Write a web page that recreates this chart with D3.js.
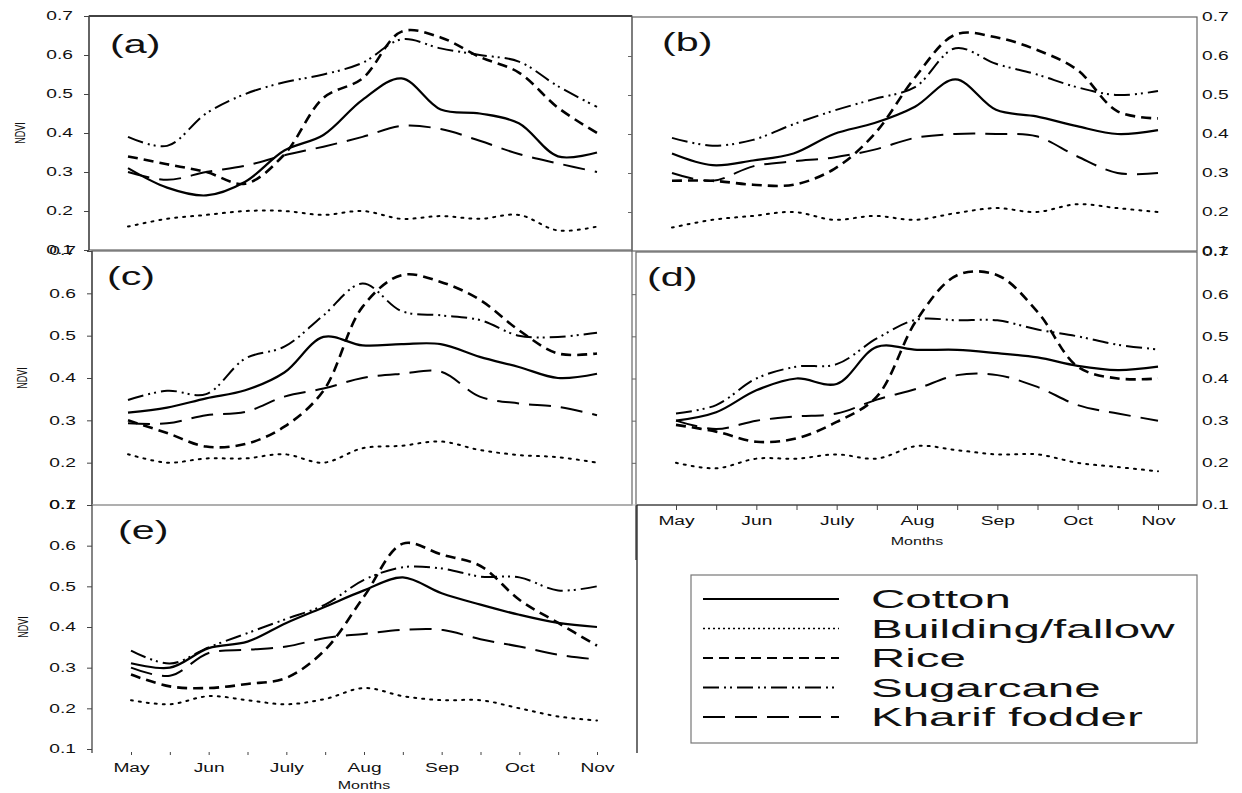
<!DOCTYPE html>
<html><head><meta charset="utf-8">
<script src="https://cdn.jsdelivr.net/npm/d3@7"></script>
<style>body{margin:0;background:#fff}svg{display:block}text{font-family:"Liberation Sans",Arial,sans-serif;fill:#111}</style>
</head><body><svg id="c" width="1242" height="793"></svg>
<script>
// ---------- data ----------
const months = ["May","Jun","July","Aug","Sep","Oct","Nov"];
const halfSteps = d3.range(13);              // half-month positions May..Nov
const yTicks = [0.1,0.2,0.3,0.4,0.5,0.6,0.7];
const panelNames = ["(a)","(b)","(c)","(d)","(e)"];
const seriesNames = ["Cotton","Building/fallow","Rice","Sugarcane","Kharif fodder"];

const cotton = [
 [0.31,0.26,0.24,0.275,0.355,0.395,0.485,0.54,0.46,0.45,0.425,0.34,0.35],
 [0.35,0.32,0.332,0.35,0.40,0.428,0.47,0.54,0.462,0.445,0.42,0.40,0.41],
 [0.318,0.33,0.352,0.371,0.413,0.497,0.477,0.48,0.48,0.45,0.426,0.40,0.41],
 [0.30,0.32,0.372,0.40,0.387,0.475,0.468,0.468,0.46,0.45,0.43,0.42,0.428],
 [0.311,0.30,0.348,0.364,0.41,0.45,0.49,0.522,0.483,0.455,0.43,0.41,0.40]
];
const fallow = [
 [0.16,0.18,0.19,0.20,0.20,0.19,0.20,0.18,0.187,0.18,0.19,0.15,0.16],
 [0.16,0.18,0.19,0.20,0.18,0.19,0.18,0.197,0.21,0.20,0.22,0.21,0.20],
 [0.22,0.20,0.21,0.21,0.22,0.20,0.234,0.24,0.25,0.23,0.218,0.213,0.20],
 [0.20,0.187,0.21,0.21,0.22,0.21,0.24,0.23,0.22,0.22,0.20,0.19,0.18],
 [0.22,0.21,0.23,0.22,0.21,0.223,0.25,0.23,0.22,0.22,0.20,0.18,0.17]
];
const rice = [
 [0.34,0.32,0.30,0.27,0.345,0.49,0.54,0.66,0.645,0.595,0.555,0.465,0.40],
 [0.28,0.28,0.27,0.27,0.31,0.40,0.545,0.655,0.648,0.616,0.565,0.458,0.44],
 [0.30,0.27,0.238,0.244,0.285,0.37,0.568,0.643,0.627,0.585,0.513,0.458,0.458],
 [0.29,0.274,0.25,0.258,0.297,0.357,0.54,0.645,0.645,0.558,0.428,0.40,0.40],
 [0.283,0.254,0.25,0.26,0.275,0.344,0.475,0.605,0.578,0.55,0.467,0.41,0.354]
];
const sugarcane = [
 [0.39,0.367,0.45,0.50,0.53,0.55,0.58,0.64,0.617,0.60,0.583,0.52,0.467],
 [0.39,0.37,0.385,0.425,0.46,0.49,0.52,0.62,0.58,0.553,0.52,0.50,0.51],
 [0.348,0.37,0.362,0.446,0.474,0.548,0.623,0.558,0.548,0.537,0.50,0.497,0.507],
 [0.317,0.337,0.40,0.428,0.434,0.495,0.54,0.538,0.538,0.516,0.50,0.48,0.469],
 [0.342,0.31,0.35,0.385,0.42,0.455,0.516,0.547,0.544,0.524,0.522,0.49,0.50]
];
const kharif = [
 [0.30,0.28,0.30,0.316,0.343,0.365,0.39,0.418,0.41,0.38,0.346,0.322,0.30],
 [0.30,0.28,0.317,0.33,0.34,0.36,0.39,0.40,0.40,0.394,0.343,0.30,0.30],
 [0.293,0.293,0.312,0.32,0.356,0.375,0.40,0.41,0.415,0.356,0.34,0.332,0.312],
 [0.30,0.28,0.30,0.31,0.317,0.35,0.376,0.408,0.408,0.38,0.337,0.317,0.30],
 [0.30,0.28,0.336,0.344,0.352,0.373,0.383,0.393,0.393,0.37,0.352,0.332,0.32]
];

// ---------- styles ----------
const seriesData = [cotton, fallow, rice, sugarcane, kharif];
const seriesStyle = [
  {w:2.2, dash:null},
  {w:2.0, dash:"2,6"},
  {w:2.6, dash:"10,6"},
  {w:2.0, dash:"16,5,2,4,2,5"},
  {w:2.0, dash:"22,10"}
];
const K = 1.6; // horizontal text stretch of the source image

// ---------- layout ----------
const layout = [
  {fl:89, fr:632, ft:16, fb:250, x0:128, x1:597, yAxis:"left", lab:[110,53], ndvi:[20,133]},
  {fl:632, fr:1197, ft:17, fb:251, x0:672, x1:1158, yAxis:"right", lab:[662,51]},
  {fl:92, fr:632, ft:251, fb:505, x0:128, x1:597, yAxis:"left", lab:[107,285], ndvi:[22,378]},
  {fl:636, fr:1197, ft:252, fb:505, x0:676, x1:1158, yAxis:"right", lab:[647,286], xAxis:"d"},
  {fl:92, fr:637, ft:505, fb:749, x0:131, x1:597, yAxis:"left", lab:[118,539], ndvi:[23,627], xAxis:"e"}
];

const svg = d3.select("#c");

function sText(g, x, y, str, size, anchor, k) {
  return g.append("text")
    .attr("transform", `translate(${x},${y}) scale(${k||K},1)`)
    .attr("font-size", size)
    .attr("text-anchor", anchor || "start")
    .text(str);
}

layout.forEach((L, p) => {
  const g = svg.append("g");
  const x = d3.scaleLinear().domain([0, 12]).range([L.x0, L.x1]);
  const y = d3.scaleLinear().domain([0.1, 0.7]).range([L.fb, L.ft]);

  // frame
  if (p !== 4) {
    g.append("rect").attr("x", L.fl).attr("y", L.ft)
      .attr("width", L.fr - L.fl).attr("height", L.fb - L.ft)
      .attr("fill", "none").attr("stroke", "#666").attr("stroke-width", 1.2);
    if (p === 0) g.append("line").attr("x1", L.fl).attr("x2", L.fr).attr("y1", L.ft).attr("y2", L.ft)
      .attr("stroke", "#222").attr("stroke-width", 1.3);
  } else {
    g.append("line").attr("x1", L.fl).attr("x2", L.fr).attr("y1", L.ft).attr("y2", L.ft)
      .attr("stroke", "#bbb").attr("stroke-width", 1.2);
    g.append("line").attr("x1", L.fr).attr("x2", L.fr).attr("y1", L.ft).attr("y2", L.fb + 4)
      .attr("stroke", "#222").attr("stroke-width", 1.3);
  }

  // y axis
  if (L.yAxis === "left") {
    const ax = g.append("g").attr("transform", `translate(${L.fl},0)`)
      .call(d3.axisLeft(y).tickValues(yTicks).tickSize(5).tickFormat(d3.format(".1f")));
    ax.select(".domain").attr("stroke", "#444").attr("stroke-width", 1.3)
      .attr("d", `M0,${L.ft}V${L.fb + (p === 4 ? 4 : 0)}`);
    ax.selectAll(".tick line").attr("stroke", "#444");
    ax.selectAll(".tick text").attr("x", -16 / K).attr("transform", `scale(${K},1)`)
      .attr("font-size", 12).attr("font-family", "Liberation Sans, Arial, sans-serif").attr("fill", "#222");
  } else {
    // small ticks on the shared left edge
    const axL = g.append("g").attr("transform", `translate(${L.fl},0)`)
      .call(d3.axisLeft(y).tickValues(yTicks.slice(1, 6)).tickSize(4).tickFormat(""));
    axL.select(".domain").remove();
    axL.selectAll(".tick line").attr("stroke", "#666");
    const ax = g.append("g").attr("transform", `translate(${L.fr},0)`)
      .call(d3.axisRight(y).tickValues(yTicks).tickSize(0).tickFormat(d3.format(".1f")));
    ax.select(".domain").remove();
    ax.selectAll(".tick text").attr("x", 5 / K).attr("transform", `scale(${K},1)`)
      .attr("font-size", 12).attr("font-family", "Liberation Sans, Arial, sans-serif").attr("fill", "#222");
  }

  // x axis
  if (L.xAxis) {
    const ay = L.xAxis === "d" ? L.fb : L.fb + 3;
    const ax = g.append("g").attr("transform", `translate(0,${ay})`)
      .call(d3.axisBottom(x).tickValues(halfSteps).tickSize(L.xAxis === "d" ? 5 : 3)
        .tickPadding(L.xAxis === "d" ? 6 : 8)
        .tickFormat(i => i % 2 === 0 ? months[i / 2] : ""));
    if (L.xAxis === "d") {
      ax.select(".domain").attr("stroke", "#444").attr("d", `M${L.fl},0H${L.fr}`);
    } else {
      ax.select(".domain").remove();
    }
    ax.selectAll(".tick line").attr("stroke", "#444");
    ax.selectAll(".tick text").attr("transform", `scale(${K},1)`)
      .attr("font-size", 12).attr("font-family", "Liberation Sans, Arial, sans-serif").attr("fill", "#222");
    const mx = (L.x0 + L.x1) / 2;
    sText(g, mx, ay + (L.xAxis === "d" ? 40 : 37), "Months", 10, "middle");
  }
  if (L.xAxis === "d") {
    g.append("line").attr("x1", L.fl).attr("x2", L.fl).attr("y1", L.fb).attr("y2", 560)
      .attr("stroke", "#222").attr("stroke-width", 1.2);
  }

  // NDVI label
  if (L.ndvi) {
    g.append("text").attr("transform", `translate(${L.ndvi[0]},${L.ndvi[1]}) rotate(-90) scale(1,${K})`)
      .attr("font-size", 9).attr("text-anchor", "middle").attr("dy", "0.35em").text("NDVI");
  }

  // panel label
  sText(g, L.lab[0], L.lab[1], panelNames[p], 25, "start", 1.65);

  // series
  const line = d3.line().x((d, i) => x(i)).y(d => y(d)).curve(d3.curveCatmullRom.alpha(0.5));
  seriesData.forEach((sd, s) => {
    g.append("path").datum(sd[p]).attr("d", line)
      .attr("fill", "none").attr("stroke", "#000")
      .attr("stroke-width", seriesStyle[s].w)
      .attr("stroke-dasharray", seriesStyle[s].dash)
      .attr("stroke-linecap", s === 1 ? "round" : "butt");
  });
});

// ---------- legend ----------
const lg = svg.append("g");
lg.append("rect").attr("x", 691).attr("y", 575).attr("width", 506).attr("height", 168)
  .attr("fill", "none").attr("stroke", "#777").attr("stroke-width", 1.2);
seriesNames.forEach((nm, s) => {
  const cy = 599 + 29.5 * s;
  lg.append("line").attr("x1", 703).attr("x2", 839).attr("y1", cy).attr("y2", cy)
    .attr("stroke", "#000").attr("stroke-width", s === 1 ? 1.4 : 2.2)
    .attr("stroke-dasharray", s === 1 ? "2,3" : seriesStyle[s].dash);
  sText(lg, 871, cy + 9, nm, 25, "start", 1.9);
});
</script></body></html>
